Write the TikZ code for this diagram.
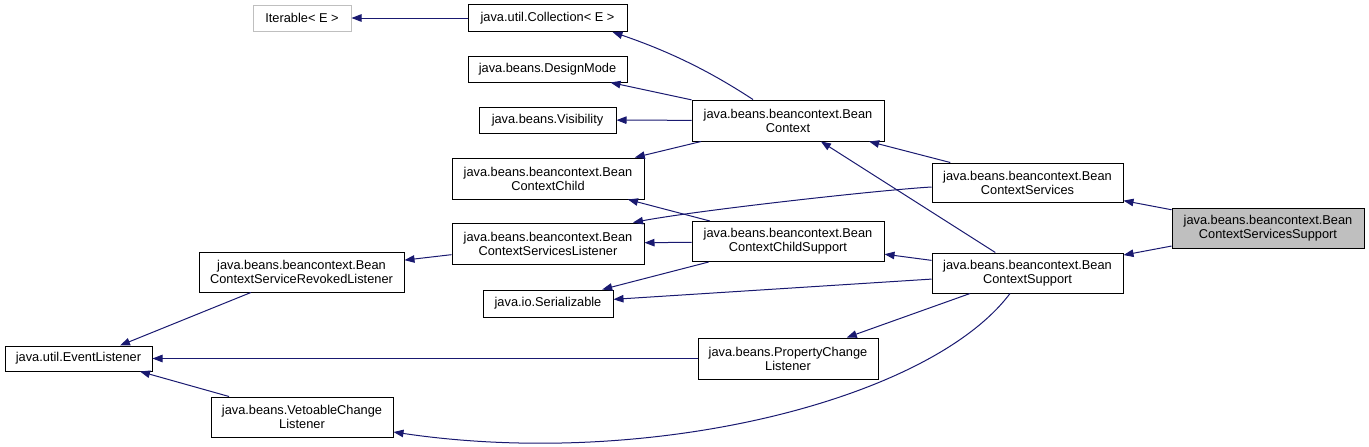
\documentclass[tikz,border=0pt]{standalone}
\usepackage{fontspec}
\setmainfont{Liberation Sans}
\usepackage{tikz}
\usetikzlibrary{arrows.meta}
\definecolor{DoxEdge}{HTML}{191970}
\definecolor{DoxGray}{HTML}{BFBFBF}
\tikzset{
  cls/.style={draw=black,line width=1pt,fill=white,align=center,inner sep=0pt,
    font=\fontsize{12.8}{14}\selectfont},
  ext/.style={cls,draw=DoxGray},
  focus/.style={cls,fill=DoxGray},
  two/.style={cls,minimum width=192pt,minimum height=40pt},
  inh/.style={-{Triangle[length=10pt,width=7.5pt]},draw=DoxEdge,line width=1pt},
}

\begin{document}
\begin{tikzpicture}[x=1pt,y=-1pt]
\useasboundingbox (0,0) rectangle (1369,447);

% top row
\node[ext, minimum width=98pt, minimum height=26pt] (iter) at (302,18) {Iterable< E >};
\node[cls, minimum width=159pt, minimum height=27pt] (coll) at (547.5,18) {java.util.Collection< E >};
\node[cls, minimum width=159pt, minimum height=26pt] (design) at (547.5,69) {java.beans.DesignMode};
\node[cls, minimum width=137pt, minimum height=26pt] (vis) at (547.5,120) {java.beans.Visibility};
\node[two, minimum height=41pt] (bc) at (788,120.5) {java.beans.beancontext.Bean\\Context};

% middle
\node[two, minimum height=41pt] (bcchild) at (548,178.5) {java.beans.beancontext.Bean\\ContextChild};
\node[two, minimum height=41pt] (bcsl) at (548,243.5) {java.beans.beancontext.Bean\\ContextServicesListener};
\node[two] (bcchsup) at (788,241.5) {java.beans.beancontext.Bean\\ContextChildSupport};
\node[cls, minimum width=130pt, minimum height=27pt] (ser) at (548,303.5) {java.io.Serializable};
\node[cls, minimum width=180pt, minimum height=41pt] (pcl) at (788,358.5) {java.beans.PropertyChange\\Listener};

% listeners on the left
\node[cls, minimum width=147pt, minimum height=25pt] (evl) at (78.5,358.5) {java.util.EventListener};
\node[cls, minimum width=205pt, minimum height=40pt] (bcsrl) at (301.5,272) {java.beans.beancontext.Bean\\ContextServiceRevokedListener};
\node[cls, minimum width=182pt, minimum height=40pt] (vcl) at (302,417) {java.beans.VetoableChange\\Listener};

% right side
\node[two, minimum width=191pt, minimum height=39pt] (bcs) at (1027.5,182.5) {java.beans.beancontext.Bean\\ContextServices};
\node[two, minimum width=191pt] (bcsup) at (1027.5,273) {java.beans.beancontext.Bean\\ContextSupport};
\node[two, focus] (bcss) at (1268,228) {java.beans.beancontext.Bean\\ContextServicesSupport};

% inheritance
\draw[inh] (coll) -- (iter);
\draw[inh] ([xshift=-35pt]bc.north) .. controls (720,78) and (680,55) .. ([xshift=65pt]coll.south);
\draw[inh] (bc) -- (design);
\draw[inh] (bc) -- (vis);
\draw[inh] (bc) -- (bcchild);
\draw[inh] (bcs) -- (bc);
\draw[inh] ([yshift=-4.5pt]bcs.west) .. controls (880,190) and (700,210) .. ([xshift=85pt]bcsl.north);
\draw[inh] (bcchsup) -- (bcchild);
\draw[inh] (bcchsup) -- (bcsl);
\draw[inh] (bcchsup) -- (ser);
\draw[inh] (bcsup) -- (bc);
\draw[inh] (bcsup) -- (bcchsup);
\draw[inh] (bcsup) -- (ser);
\draw[inh] (bcsup) -- (pcl);
\draw[inh] ([xshift=-17.5pt]bcsup.south) .. controls (930,400) and (650,470) .. ([yshift=-15pt]vcl.east);
\draw[inh] (bcss) -- (bcs);
\draw[inh] (bcss) -- (bcsup);
\draw[inh] (bcsl) -- (bcsrl);
\draw[inh] (bcsrl) -- ([xshift=41.5pt]evl.north);
\draw[inh] (pcl) -- (evl);
\draw[inh] (vcl) -- ([xshift=61.5pt]evl.south);

\end{tikzpicture}
\end{document}
